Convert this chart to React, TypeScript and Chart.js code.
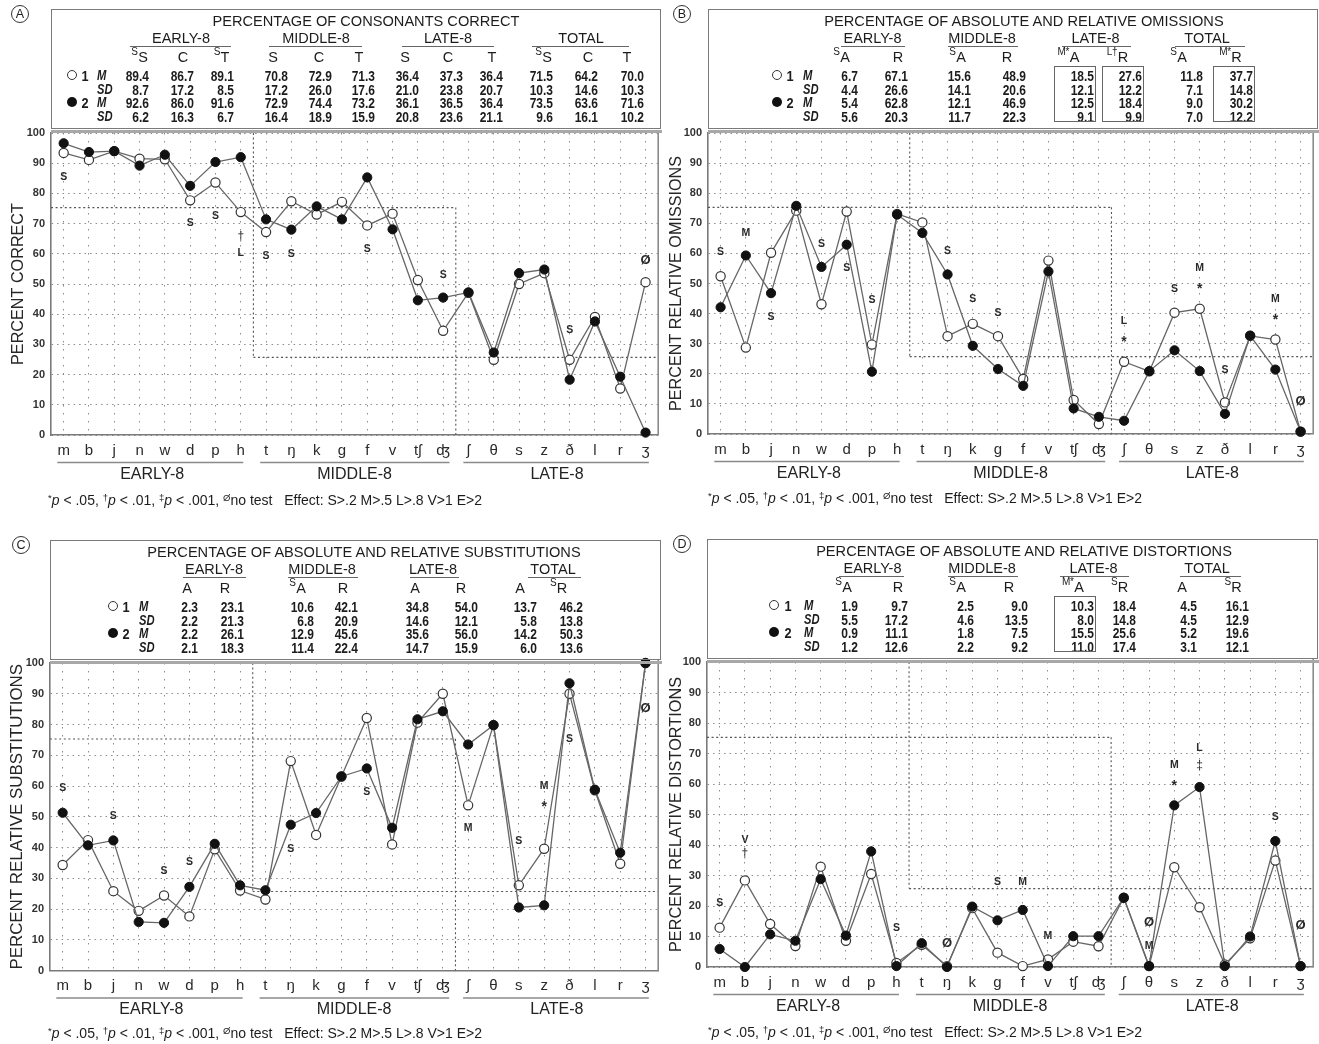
import React, { useEffect, useRef } from 'react';
import { Chart, registerables } from 'chart.js';

Chart.register(...registerables);

const FONT = '"Liberation Sans", Arial, Helvetica, sans-serif';
const IPA_FONT = '"Liberation Sans", "DejaVu Sans", Arial, sans-serif';

// ---------------- data ----------------
const consonants = ['m', 'b', 'j', 'n', 'w', 'd', 'p', 'h', 't', 'ŋ', 'k', 'g', 'f', 'v', 'tʃ', 'ʤ', 'ʃ', 'θ', 's', 'z', 'ð', 'l', 'r', 'ʒ'];
const groupNames = ['EARLY-8', 'MIDDLE-8', 'LATE-8'];
const groupCenters = [3.5, 11.5, 19.5];
const groupSpans = [[-0.25, 7.1], [7.77, 15.25], [15.8, 23.13]];
const yTicks = [0, 10, 20, 30, 40, 50, 60, 70, 80, 90, 100];

// region boundaries (category index, percent)
const regionLines = [
  [7.5, 100, 7.5, 25.7],
  [7.5, 25.7, 23.5, 25.7],
  [-0.5, 75.3, 15.5, 75.3],
  [15.5, 75.3, 15.5, 0],
];

const correctGroup1 = [93.4, 91.1, 94, 91.5, 91.3, 77.7, 83.6, 73.8, 67.2, 77.4, 73, 77.2, 69.4, 73.3, 51.3, 34.5, 47.1, 24.9, 50, 53.6, 24.9, 39.1, 15.4, 50.6];
const correctGroup2 = [96.6, 93.7, 94, 89.2, 92.8, 82.5, 90.4, 92, 71.4, 68, 75.7, 71.4, 85.3, 68.1, 44.6, 45.5, 47.2, 27.3, 53.6, 54.8, 18.3, 37.6, 19.3, 0.8];

const omissionGroup1 = [52.4, 28.7, 60.2, 74.2, 43.1, 73.9, 29.7, 73.1, 70.3, 32.5, 36.6, 32.5, 18.3, 57.6, 11.3, 3.3, 24, 20.8, 40.3, 41.6, 10.5, 32.6, 31.4, 0.8];
const omissionGroup2 = [42.1, 59.3, 46.8, 75.8, 55.5, 62.9, 20.7, 72.9, 66.8, 53, 29.3, 21.6, 16, 54, 8.5, 5.7, 4.4, 20.9, 27.8, 20.9, 6.7, 32.7, 21.4, 0.8];

const substitutionGroup1 = [34.3, 42.4, 25.8, 19.4, 24.4, 17.6, 39.4, 26, 23.1, 68.1, 44.1, 63.1, 82.1, 41, 80.6, 90, 53.7, 79.8, 27.7, 39.6, 90, 58.6, 34.7, 100];
const substitutionGroup2 = [51.3, 40.7, 42.3, 15.8, 15.5, 27.2, 41.2, 27.7, 26.1, 47.4, 51.2, 63.1, 65.7, 46.4, 81.7, 84.3, 73.5, 79.8, 20.5, 21.2, 93.4, 58.8, 38.3, 100];

const distortionGroup1 = [12.9, 28.4, 14.1, 6.9, 32.9, 8.6, 30.5, 1.3, 7.3, 0.3, 19.3, 4.7, 0.3, 2.5, 8.3, 6.8, 22.7, 0.3, 32.7, 19.6, 0.8, 9.4, 34.9, 0.3];
const distortionGroup2 = [5.9, 0, 10.7, 8.6, 28.8, 10.3, 37.9, 0.3, 7.8, 0, 19.8, 15.3, 18.7, 0.3, 10.1, 10.1, 22.7, 0.3, 53, 59, 0.3, 10, 41.3, 0.3];

type Mark = [number, number, string];
const correctMarks: Mark[] = [[0, 85.5, 'S'], [5, 70, 'S'], [6, 72.5, 'S'], [7, 65.8, '†'], [7, 60.3, 'L'], [8, 59.4, 'S'], [9, 60, 'S'], [12, 61.7, 'S'], [15, 53, 'S'], [20, 34.8, 'S'], [23, 57.7, 'Ø']];
const omissionMarks: Mark[] = [[0, 60.3, 'S'], [1, 66.9, 'M'], [2, 39, 'S'], [4, 63.2, 'S'], [5, 55.2, 'S'], [6, 44.5, 'S'], [9, 60.7, 'S'], [10, 44.7, 'S'], [11, 40.1, 'S'], [16, 37.5, 'L'], [16, 31.6, '*'], [18, 48.1, 'S'], [19, 55, 'M'], [19, 49.2, '*'], [20, 21.3, 'S'], [22, 44.8, 'M'], [22, 38.7, '*'], [23, 10.8, 'Ø']];
const substitutionMarks: Mark[] = [[0, 59.2, 'S'], [2, 50.2, 'S'], [4, 32.4, 'S'], [5, 35.1, 'S'], [9, 39.4, 'S'], [12, 58.1, 'S'], [16, 46.2, 'M'], [18, 42.2, 'S'], [19, 60, 'M'], [19, 54.1, '*'], [20, 75.4, 'S'], [23, 85.2, 'Ø']];
const distortionMarks: Mark[] = [[0, 20.8, 'S'], [1, 41.6, 'V'], [1, 37, '†'], [7, 12.9, 'S'], [9, 7.7, 'Ø'], [11, 27.7, 'S'], [12, 27.7, 'M'], [13, 10.2, 'M'], [17, 14.6, 'Ø'], [17, 6.9, 'M'], [18, 66.3, 'M'], [18, 60.2, '*'], [19, 71.9, 'L'], [19, 66, '‡'], [22, 49.1, 'S'], [23, 13.5, 'Ø']];

// header tables
const tableGroups = ['EARLY-8', 'MIDDLE-8', 'LATE-8', 'TOTAL'];

const tableA_cols = ['S', 'C', 'T', 'S', 'C', 'T', 'S', 'C', 'T', 'S', 'C', 'T'];
const tableA_sups = ['S', '', 'S', '', '', '', '', '', '', 'S', '', ''];
const tableA_M1 = [89.4, 86.7, 89.1, 70.8, 72.9, 71.3, 36.4, 37.3, 36.4, 71.5, 64.2, 70.0];
const tableA_SD1 = [8.7, 17.2, 8.5, 17.2, 26.0, 17.6, 21.0, 23.8, 20.7, 10.3, 14.6, 10.3];
const tableA_M2 = [92.6, 86.0, 91.6, 72.9, 74.4, 73.2, 36.1, 36.5, 36.4, 73.5, 63.6, 71.6];
const tableA_SD2 = [6.2, 16.3, 6.7, 16.4, 18.9, 15.9, 20.8, 23.6, 21.1, 9.6, 16.1, 10.2];

const tableAR_cols = ['A', 'R', 'A', 'R', 'A', 'R', 'A', 'R'];

const tableB_sups = ['S', '', 'S', '', 'M*', 'L†', 'S', 'M*'];
const tableB_M1 = [6.7, 67.1, 15.6, 48.9, 18.5, 27.6, 11.8, 37.7];
const tableB_SD1 = [4.4, 26.6, 14.1, 20.6, 12.1, 12.2, 7.1, 14.8];
const tableB_M2 = [5.4, 62.8, 12.1, 46.9, 12.5, 18.4, 9.0, 30.2];
const tableB_SD2 = [5.6, 20.3, 11.7, 22.3, 9.1, 9.9, 7.0, 12.2];

const tableC_sups = ['', '', 'S', '', '', '', '', 'S'];
const tableC_M1 = [2.3, 23.1, 10.6, 42.1, 34.8, 54.0, 13.7, 46.2];
const tableC_SD1 = [2.2, 21.3, 6.8, 20.9, 14.6, 12.1, 5.8, 13.8];
const tableC_M2 = [2.2, 26.1, 12.9, 45.6, 35.6, 56.0, 14.2, 50.3];
const tableC_SD2 = [2.1, 18.3, 11.4, 22.4, 14.7, 15.9, 6.0, 13.6];

const tableD_sups = ['S', '', 'S', '', 'M*', 'S', '', 'S'];
const tableD_M1 = [1.9, 9.7, 2.5, 9.0, 10.3, 18.4, 4.5, 16.1];
const tableD_SD1 = [5.5, 17.2, 4.6, 13.5, 8.0, 14.8, 4.5, 12.9];
const tableD_M2 = [0.9, 11.1, 1.8, 7.5, 15.5, 25.6, 5.2, 19.6];
const tableD_SD2 = [1.2, 12.6, 2.2, 9.2, 11.0, 17.4, 3.1, 12.1];

// ---------------- layout ----------------
type HeaderSpec = {
  title: string; titleX: number;
  groupX: number[]; groupUL: number[][];
  colX: number[]; cols: string[]; sups: string[];
  valueRight: number[]; values: number[][]; boxes: number[];
  legend: { circle: number; num: number; label: number };
};

const headerA: HeaderSpec = {
  title: 'PERCENTAGE OF CONSONANTS CORRECT', titleX: 366,
  groupX: [181, 316, 448, 581], groupUL: [[130, 231], [269, 362], [402, 494], [532, 629]],
  colX: [143, 183, 225, 273, 319, 359, 405, 448, 492, 547, 588, 627], cols: tableA_cols, sups: tableA_sups,
  valueRight: [149, 194, 234, 288, 332, 375, 419, 463, 503, 553, 598, 644],
  values: [tableA_M1, tableA_SD1, tableA_M2, tableA_SD2], boxes: [],
  legend: { circle: 72, num: 85, label: 97 },
};
const headerB: HeaderSpec = {
  title: 'PERCENTAGE OF ABSOLUTE AND RELATIVE OMISSIONS', titleX: 364,
  groupX: [212.5, 322, 435.6, 547], groupUL: [[181, 245], [288, 358], [402, 471], [515, 585]],
  colX: [185, 238, 301, 347, 414.5, 463, 522, 576.6], cols: tableAR_cols, sups: tableB_sups,
  valueRight: [198, 248, 311, 366, 433.5, 482, 543, 593],
  values: [tableB_M1, tableB_SD1, tableB_M2, tableB_SD2], boxes: [4, 5, 7],
  legend: { circle: 117, num: 129.5, label: 143 },
};
const headerC: HeaderSpec = {
  title: 'PERCENTAGE OF ABSOLUTE AND RELATIVE SUBSTITUTIONS', titleX: 364,
  groupX: [214, 322, 433, 553], groupUL: [[183, 246], [288, 358], [410, 459], [528, 581]],
  colX: [187, 225, 301, 343, 415, 461, 520, 562], cols: tableAR_cols, sups: tableC_sups,
  valueRight: [198, 244, 313.5, 358, 429, 478, 537, 583],
  values: [tableC_M1, tableC_SD1, tableC_M2, tableC_SD2], boxes: [],
  legend: { circle: 113, num: 126, label: 139 },
};
const headerD: HeaderSpec = {
  title: 'PERCENTAGE OF ABSOLUTE AND RELATIVE DISTORTIONS', titleX: 364,
  groupX: [212.5, 322, 433.5, 547], groupUL: [[179, 244], [288, 358], [400, 469], [520, 581]],
  colX: [187, 238, 301, 349, 419, 463, 522, 576.6], cols: tableAR_cols, sups: tableD_sups,
  valueRight: [198, 248, 313.5, 368, 433.5, 475.6, 536.6, 589],
  values: [tableD_M1, tableD_SD1, tableD_M2, tableD_SD2], boxes: [4],
  legend: { circle: 113.6, num: 128, label: 144 },
};

type PanelSpec = {
  letter: string; baseX: number; topY: number;
  canvas: { left: number; top: number; w: number; h: number };
  area: { left: number; right: number; top: number; bottom: number };
  yTitle: string; yTitleSize: number; yTitleX: number;
  s1: number[]; s2: number[]; marks: Mark[]; header: HeaderSpec;
  circleX: number; footY: number; footX: number;
};

const panels: PanelSpec[] = [
  {
    letter: 'A', baseX: 0, topY: 0,
    canvas: { left: 0, top: 0, w: 664, h: 520 }, area: { left: 51, right: 661, top: 133, bottom: 435 },
    yTitle: 'PERCENT CORRECT', yTitleSize: 16.2, yTitleX: 19,
    s1: correctGroup1, s2: correctGroup2, marks: correctMarks, header: headerA,
    circleX: 20, footY: 500, footX: 48,
  },
  {
    letter: 'B', baseX: 660, topY: 0,
    canvas: { left: 663, top: 0, w: 656, h: 520 }, area: { left: 45, right: 655, top: 133, bottom: 434 },
    yTitle: 'PERCENT RELATIVE OMISSIONS', yTitleSize: 16.2, yTitleX: 14,
    s1: omissionGroup1, s2: omissionGroup2, marks: omissionMarks, header: headerB,
    circleX: 682, footY: 498, footX: 708,
  },
  {
    letter: 'C', baseX: 0, topY: 531,
    canvas: { left: 0, top: 525, w: 664, h: 519 }, area: { left: 50, right: 661, top: 138, bottom: 445.5 },
    yTitle: 'PERCENT RELATIVE SUBSTITUTIONS', yTitleSize: 16.9, yTitleX: 17,
    s1: substitutionGroup1, s2: substitutionGroup2, marks: substitutionMarks, header: headerC,
    circleX: 21, footY: 1033, footX: 48,
  },
  {
    letter: 'D', baseX: 660, topY: 530,
    canvas: { left: 663, top: 525, w: 656, h: 519 }, area: { left: 44, right: 655, top: 137, bottom: 442 },
    yTitle: 'PERCENT RELATIVE DISTORTIONS', yTitleSize: 16.3, yTitleX: 14,
    s1: distortionGroup1, s2: distortionGroup2, marks: distortionMarks, header: headerD,
    circleX: 682, footY: 1032, footX: 708,
  },
];

// ---------------- components ----------------
type TProps = {
  x: number; y: number; children: React.ReactNode; align?: 'center' | 'right' | 'left';
  size?: number; weight?: number; italic?: boolean; sx?: number; color?: string;
};
function T({ x, y, children, align = 'center', size = 14.5, weight = 400, italic = false, sx = 1, color = '#1c1c1c' }: TProps) {
  const tx = align === 'center' ? '-50%' : align === 'right' ? '-100%' : '0';
  const origin = align === 'center' ? 'center center' : align === 'right' ? 'right center' : 'left center';
  return (
    <div style={{
      position: 'absolute', left: x, top: y, transform: `translate(${tx}, -50%) scaleX(${sx})`,
      transformOrigin: origin, fontSize: size, fontWeight: weight, fontStyle: italic ? 'italic' : 'normal',
      lineHeight: 1, whiteSpace: 'nowrap', fontFamily: FONT, color,
    }}>{children}</div>
  );
}

function ColHead({ x, y, letter, sup }: { x: number; y: number; letter: string; sup: string }) {
  return (
    <div style={{ position: 'absolute', left: x, top: y, transform: 'translate(-50%, -50%)', fontSize: 14.5, lineHeight: 1, fontFamily: FONT, color: '#1c1c1c', whiteSpace: 'nowrap' }}>
      {sup ? <span style={{ position: 'absolute', right: '100%', top: -3, fontSize: 10, letterSpacing: -0.3, marginRight: 0.5 }}>{sup}</span> : null}
      {letter}
    </div>
  );
}

function Header({ p }: { p: PanelSpec }) {
  const h = p.header;
  const bx = p.baseX;
  const ty = p.topY;
  const left = p.canvas.left + p.area.left;
  const right = p.canvas.left + p.area.right;
  const rowsY = [75, 88.5, 102, 115.5];
  const els: React.ReactNode[] = [];
  els.push(<div key="box" style={{ position: 'absolute', left: left - 0.5, top: ty + 9, width: right - left, height: 119.5, border: '1px solid #7a7a7a', boxSizing: 'border-box' }} />);
  els.push(<div key="dbl" style={{ position: 'absolute', left: left - 0.5, top: ty + 130, width: right - left + 1, height: 2.5, background: '#a8a8a8' }} />);
  els.push(<T key="title" x={bx + h.titleX} y={ty + 21} size={14.6}>{h.title}</T>);
  tableGroups.forEach((g, i) => {
    els.push(<T key={'g' + i} x={bx + h.groupX[i]} y={ty + 38} size={14.5}>{g}</T>);
    const [a, b] = h.groupUL[i];
    els.push(<div key={'gu' + i} style={{ position: 'absolute', left: bx + a, top: ty + 45.5, width: b - a, height: 1.2, background: '#666' }} />);
  });
  h.cols.forEach((c, i) => {
    els.push(<ColHead key={'c' + i} x={bx + h.colX[i]} y={ty + 57} letter={c} sup={h.sups[i]} />);
  });
  h.values.forEach((row, r) => {
    row.forEach((v, i) => {
      els.push(<T key={`v${r}_${i}`} x={bx + h.valueRight[i]} y={ty + rowsY[r]} align="right" size={15} weight={700} sx={0.8}>{v.toFixed(1)}</T>);
    });
  });
  h.boxes.forEach((ci) => {
    const vr = h.valueRight[ci];
    els.push(<div key={'bx' + ci} style={{ position: 'absolute', left: bx + vr - 40, top: ty + 66, width: 42, height: 56, border: '1px solid #666', boxSizing: 'border-box' }} />);
  });
  const lg = h.legend;
  els.push(<div key="lc1" style={{ position: 'absolute', left: bx + lg.circle - 5, top: ty + rowsY[0] - 5, width: 10, height: 10, borderRadius: '50%', border: '1.2px solid #333', background: '#fff', boxSizing: 'border-box' }} />);
  els.push(<div key="lc2" style={{ position: 'absolute', left: bx + lg.circle - 5, top: ty + rowsY[2] - 5, width: 10, height: 10, borderRadius: '50%', background: '#111' }} />);
  els.push(<T key="ln1" x={bx + lg.num} y={ty + rowsY[0]} size={15} weight={700} sx={0.85}>1</T>);
  els.push(<T key="ln2" x={bx + lg.num} y={ty + rowsY[2]} size={15} weight={700} sx={0.85}>2</T>);
  ['M', 'SD', 'M', 'SD'].forEach((s, r) => {
    els.push(<T key={'ll' + r} x={bx + lg.label} y={ty + rowsY[r]} align="left" size={14} weight={700} italic sx={0.8}>{s}</T>);
  });
  els.push(
    <div key="circle" style={{
      position: 'absolute', left: p.circleX - 9, top: ty + 5, width: 18, height: 18, borderRadius: '50%',
      border: '1.3px solid #333', boxSizing: 'border-box', display: 'flex', alignItems: 'center', justifyContent: 'center',
      fontSize: 12.5, fontFamily: FONT, color: '#1c1c1c', lineHeight: 1,
    }}>{p.letter}</div>
  );
  const sup: React.CSSProperties = { fontSize: 9.5, position: 'relative', top: -4 };
  els.push(
    <div key="foot" style={{ position: 'absolute', left: p.footX, top: p.footY, transform: 'translateY(-50%)', fontSize: 14, lineHeight: 1, fontFamily: FONT, color: '#1c1c1c', whiteSpace: 'nowrap' }}>
      <span style={sup}>*</span><i>p</i> &lt; .05, <span style={sup}>†</span><i>p</i> &lt; .01, <span style={sup}>‡</span><i>p</i> &lt; .001, <span style={sup}>Ø</span>no test&nbsp;&nbsp;&nbsp;Effect: S&gt;.2 M&gt;.5 L&gt;.8 V&gt;1 E&gt;2
    </div>
  );
  return <>{els}</>;
}

function Plot({ p }: { p: PanelSpec }) {
  const ref = useRef<HTMLCanvasElement>(null);
  useEffect(() => {
    const cv = p.canvas;
    const area = p.area;
    const decor = {
      id: 'decor' + p.letter,
      beforeDatasetsDraw(chart: any) {
        const { ctx, chartArea, scales } = chart;
        const xs = scales.x;
        const ys = scales.y;
        ctx.save();
        ctx.strokeStyle = '#555';
        ctx.lineWidth = 1.1;
        ctx.setLineDash([2, 2.6]);
        regionLines.forEach(([x1, y1, x2, y2]) => {
          ctx.beginPath();
          ctx.moveTo(xs.getPixelForValue(x1), ys.getPixelForValue(y1));
          ctx.lineTo(xs.getPixelForValue(x2), ys.getPixelForValue(y2));
          ctx.stroke();
        });
        ctx.restore();
        ctx.save();
        ctx.strokeStyle = '#8a8a8a';
        ctx.lineWidth = 1.6;
        ctx.beginPath();
        ctx.moveTo(chartArea.right, chartArea.top - 3);
        ctx.lineTo(chartArea.right, chartArea.bottom);
        ctx.stroke();
        ctx.restore();
      },
      afterDatasetsDraw(chart: any) {
        const { ctx, chartArea, scales } = chart;
        const xs = scales.x;
        const ys = scales.y;
        ctx.save();
        ctx.textAlign = 'center';
        ctx.textBaseline = 'middle';
        ctx.fillStyle = '#2a2a2a';
        p.marks.forEach(([i, v, t]) => {
          let font = `bold 10.5px ${FONT}`;
          let dy = 0;
          if (t === '*') { font = `bold 14px ${FONT}`; dy = 3; }
          else if (t === '†' || t === '‡') { font = `12px ${FONT}`; }
          else if (t === 'Ø') { font = `bold 13px ${FONT}`; }
          ctx.font = font;
          ctx.fillText(t, xs.getPixelForValue(i), ys.getPixelForValue(v) + dy);
        });
        ctx.strokeStyle = '#8a8a8a';
        ctx.lineWidth = 1.5;
        groupSpans.forEach(([a, b]) => {
          ctx.beginPath();
          ctx.moveTo(xs.getPixelForValue(a), chartArea.bottom + 27.5);
          ctx.lineTo(xs.getPixelForValue(b), chartArea.bottom + 27.5);
          ctx.stroke();
        });
        ctx.font = `16px ${FONT}`;
        ctx.fillStyle = '#222';
        groupNames.forEach((g, i) => {
          ctx.fillText(g, xs.getPixelForValue(groupCenters[i]), chartArea.bottom + 39.5);
        });
        ctx.restore();
      },
    };
    const chart = new Chart(ref.current as HTMLCanvasElement, {
      type: 'line',
      data: {
        labels: consonants,
        datasets: [
          {
            label: 'Group 2', data: p.s2, borderColor: '#666', borderWidth: 1.3, pointRadius: 4.6,
            pointBackgroundColor: '#111', pointBorderColor: '#111', pointBorderWidth: 1, tension: 0, clip: false as any,
          },
          {
            label: 'Group 1', data: p.s1, borderColor: '#666', borderWidth: 1.3, pointRadius: 4.6,
            pointBackgroundColor: '#fff', pointBorderColor: '#333', pointBorderWidth: 1.2, tension: 0, clip: false as any,
          },
        ],
      },
      options: {
        responsive: false,
        animation: false,
        events: [],
        layout: { padding: { left: 0, top: area.top, right: cv.w - area.right, bottom: 0 } },
        plugins: { legend: { display: false }, tooltip: { enabled: false } },
        scales: {
          x: {
            type: 'category', offset: true,
            grid: { color: '#8c8c8c', lineWidth: 1, drawTicks: false, offset: false },
            border: { display: true, color: '#7a7a7a', width: 1.6, dash: [1.5, 6.5] },
            ticks: { autoSkip: false, maxRotation: 0, minRotation: 0, padding: 6.5, color: '#2a2a2a', font: { family: IPA_FONT, size: 15 } },
            afterFit: (s: any) => { s.height = cv.h - area.bottom; },
          },
          y: {
            min: 0, max: 100,
            afterBuildTicks: (s: any) => { s.ticks = yTicks.map((v) => ({ value: v })); },
            ticks: { padding: 6, color: '#333', font: { family: FONT, size: 11, weight: 'bold' } },
            grid: { color: '#8c8c8c', lineWidth: 1, drawTicks: false },
            border: { display: true, color: '#7a7a7a', width: 1.6, dash: [1.5, 4] },
            title: {
              display: true, text: p.yTitle, color: '#262626',
              font: { family: FONT, size: p.yTitleSize },
              padding: { top: p.yTitleX - (p.yTitleSize * 1.2) / 2, bottom: 0 },
            },
            afterFit: (s: any) => { s.width = area.left; },
          },
        },
      } as any,
      plugins: [decor],
    });
    return () => chart.destroy();
  }, []);
  const cv = p.canvas;
  return <canvas ref={ref} width={cv.w} height={cv.h} style={{ position: 'absolute', left: cv.left, top: cv.top, width: cv.w, height: cv.h }} />;
}

export default function App() {
  return (
    <div style={{ position: 'absolute', left: 0, top: 0, width: 1319, height: 1044, background: '#fff', overflow: 'hidden', fontFamily: FONT }}>
      {panels.map((p) => (
        <React.Fragment key={p.letter}>
          <Plot p={p} />
          <Header p={p} />
        </React.Fragment>
      ))}
    </div>
  );
}
